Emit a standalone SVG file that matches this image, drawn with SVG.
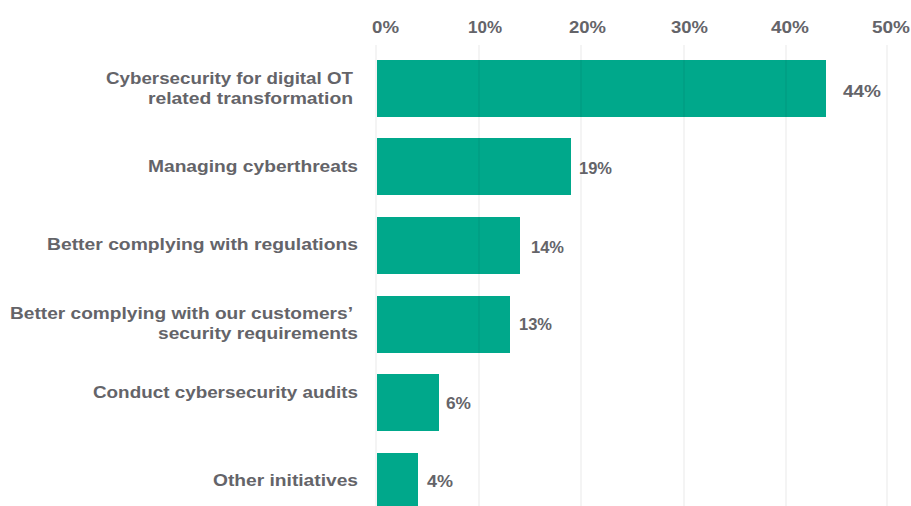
<svg xmlns="http://www.w3.org/2000/svg" width="911" height="506" viewBox="0 0 911 506">
<style>
text{font-family:"Liberation Sans",Arial,sans-serif;font-weight:700;fill:#646469;font-size:16.5px}
.cat{text-anchor:end}
.ax{text-anchor:middle}
.bar{fill:#00A88B}
.grid{stroke:#000;stroke-opacity:0.06;stroke-width:1.5}
</style>
<rect x="0" y="0" width="911" height="506" fill="#fff"/>
<g id="axis">
<text class="ax" x="385.5" y="33" textLength="27" lengthAdjust="spacingAndGlyphs">0%</text>
<text class="ax" x="485" y="33" textLength="34" lengthAdjust="spacingAndGlyphs">10%</text>
<text class="ax" x="587.5" y="33" textLength="37" lengthAdjust="spacingAndGlyphs">20%</text>
<text class="ax" x="689.5" y="33" textLength="37" lengthAdjust="spacingAndGlyphs">30%</text>
<text class="ax" x="790" y="33" textLength="38" lengthAdjust="spacingAndGlyphs">40%</text>
<text class="ax" x="891" y="33" textLength="38" lengthAdjust="spacingAndGlyphs">50%</text>
</g>
<g id="row1">
<rect class="bar" x="377" y="60" width="449" height="57"/>
<text class="cat" x="353" y="84" textLength="247" lengthAdjust="spacingAndGlyphs">Cybersecurity for digital OT</text>
<text class="cat" x="353" y="103.5" textLength="205" lengthAdjust="spacingAndGlyphs">related transformation</text>
<text x="843" y="97" textLength="38" lengthAdjust="spacingAndGlyphs">44%</text>
</g>
<g id="row2">
<rect class="bar" x="377" y="138" width="194" height="57"/>
<text class="cat" x="358" y="172" textLength="210" lengthAdjust="spacingAndGlyphs">Managing cyberthreats</text>
<text x="579" y="174" textLength="33" lengthAdjust="spacingAndGlyphs">19%</text>
</g>
<g id="row3">
<rect class="bar" x="377" y="217" width="143" height="57"/>
<text class="cat" x="358" y="250" textLength="311" lengthAdjust="spacingAndGlyphs">Better complying with regulations</text>
<text x="531" y="253" textLength="33" lengthAdjust="spacingAndGlyphs">14%</text>
</g>
<g id="row4">
<rect class="bar" x="377" y="296" width="133" height="57"/>
<text class="cat" x="353" y="319" textLength="343" lengthAdjust="spacingAndGlyphs">Better complying with our customers’</text>
<text class="cat" x="358" y="339" textLength="200" lengthAdjust="spacingAndGlyphs">security requirements</text>
<text x="519" y="330" textLength="33" lengthAdjust="spacingAndGlyphs">13%</text>
</g>
<g id="row5">
<rect class="bar" x="377" y="374" width="62" height="57"/>
<text class="cat" x="358" y="398" textLength="265" lengthAdjust="spacingAndGlyphs">Conduct cybersecurity audits</text>
<text x="446" y="409" textLength="25" lengthAdjust="spacingAndGlyphs">6%</text>
</g>
<g id="row6">
<rect class="bar" x="377" y="453" width="41" height="57"/>
<text class="cat" x="358" y="486" textLength="145" lengthAdjust="spacingAndGlyphs">Other initiatives</text>
<text x="427" y="487" textLength="26" lengthAdjust="spacingAndGlyphs">4%</text>
</g>
<g id="gridlines">
<line class="grid" x1="376" y1="45" x2="376" y2="506"/>
<line class="grid" x1="479" y1="45" x2="479" y2="506"/>
<line class="grid" x1="581" y1="45" x2="581" y2="506"/>
<line class="grid" x1="684" y1="45" x2="684" y2="506"/>
<line class="grid" x1="786" y1="45" x2="786" y2="506"/>
<line class="grid" x1="887" y1="45" x2="887" y2="506"/>
</g>
</svg>
